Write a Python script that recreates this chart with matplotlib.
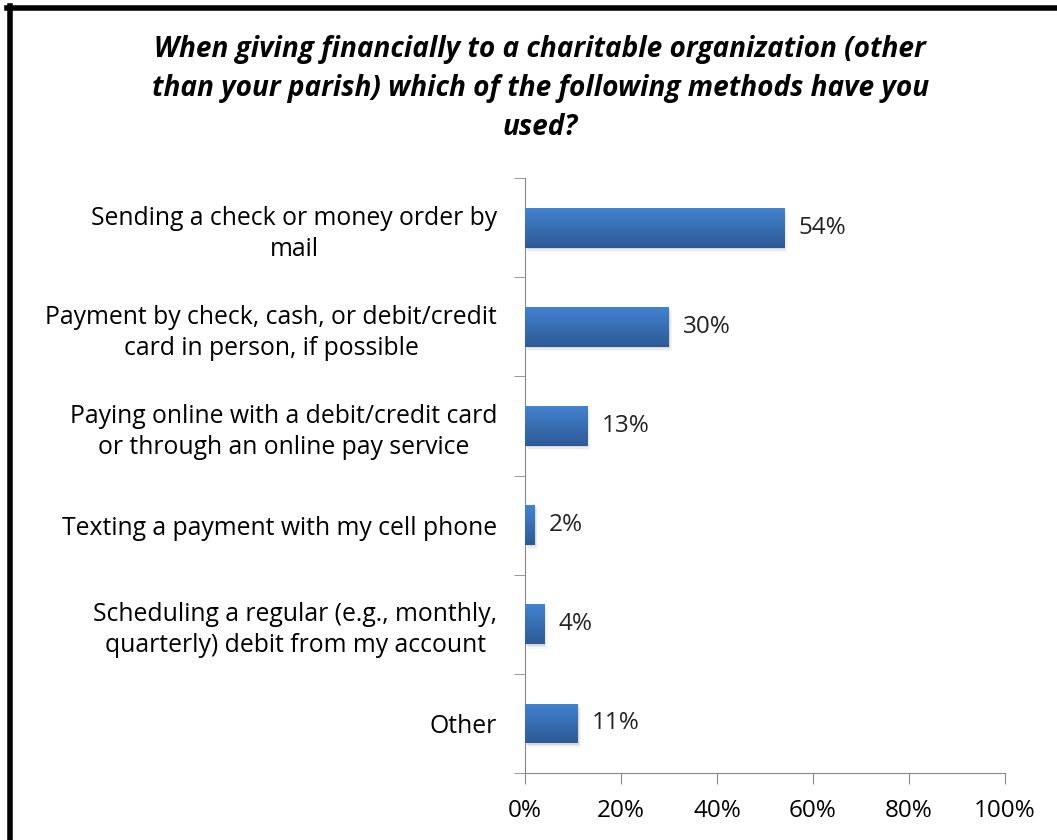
"""
Charitable giving methods - horizontal bar chart
"""

import matplotlib
matplotlib.use("Agg")
import matplotlib.pyplot as plt
import numpy as np
from matplotlib.lines import Line2D

plt.rcParams["font.family"] = ["Open Sans", "DejaVu Sans"]

categories = [
	"Sending a check or money order by\nmail",
	"Payment by check, cash, or debit/credit\ncard in person, if possible",
	"Paying online with a debit/credit card\nor through an online pay service",
	"Texting a payment with my cell phone",
	"Scheduling a regular (e.g., monthly,\nquarterly) debit from my account",
	"Other",
]
values = [54, 30, 13, 2, 4, 11]
x_ticks = [0, 20, 40, 60, 80, 100]
title = ("When giving financially to a charitable organization (other\n"
	"than your parish) which of the following methods have you\nused?")

fig = plt.figure(figsize=(10.57, 8.4), dpi=100)
ax = fig.add_axes([0.4967, 0.0798, 0.4541, 0.708])

y = np.arange(len(categories))
bars = ax.barh(y, values, height=0.4, color="#3A6FB8", edgecolor="none", zorder=2)

# vertical gradient + soft shadow, Excel style
grad = np.linspace(0, 1, 64).reshape(-1, 1)
cmap = matplotlib.colors.LinearSegmentedColormap.from_list("bar", ["#4383D0", "#2D5A96"])
for bar in bars:
	x0, y0 = bar.get_x(), bar.get_y()
	w, h = bar.get_width(), bar.get_height()
	for k, a in enumerate([0.07, 0.05, 0.03]):
		ax.add_patch(plt.Rectangle((x0 + 0.2 * (k + 1), y0 + 0.015 * (k + 1)), w, h,
			color="#000000", alpha=a, zorder=1, linewidth=0))
	im = ax.imshow(grad, extent=(x0, x0 + w, y0 + h, y0), cmap=cmap,
		aspect="auto", zorder=3)
	im.set_clip_path(bar)

for yi, v in zip(y, values):
	ax.text(v + 3, yi, f"{v}%", va="center", ha="left", fontsize=17.5, color="#222222")

ax.set_xlim(0, 100)
ax.set_ylim(len(categories) - 0.5, -0.5)
ax.set_xticks(x_ticks)
ax.set_xticklabels([f"{t}%" for t in x_ticks], fontsize=17.5)
ax.set_yticks(y)
ax.set_yticklabels(categories, fontsize=17.8, linespacing=1.3)
ax.set_yticks(np.arange(-0.5, len(categories)), minor=True)
ax.tick_params(axis="y", which="major", length=0, pad=20)
ax.tick_params(axis="y", which="minor", length=8, color="#888888", direction="out")
ax.tick_params(axis="x", length=8, color="#888888", pad=11)
for lbl in ax.get_yticklabels():
	lbl.set_horizontalalignment("right")
	lbl.set_multialignment("center")

for side in ["top", "right"]:
	ax.spines[side].set_visible(False)
ax.spines["left"].set_color("#888888")
ax.spines["bottom"].set_color("#888888")

fig.text(0.511, 0.958, title, ha="center", va="top", fontsize=20.2,
	fontweight="bold", fontstyle="italic", linespacing=1.45)

# frame lines
fig.add_artist(Line2D([9.5 / 1057, 9.5 / 1057], [0, 1 - 6 / 840], color="black",
	linewidth=4, transform=fig.transFigure))
fig.add_artist(Line2D([7 / 1057, 1], [1 - 7.5 / 840, 1 - 7.5 / 840], color="black",
	linewidth=4, transform=fig.transFigure))

fig.savefig("out.png", dpi=100)
